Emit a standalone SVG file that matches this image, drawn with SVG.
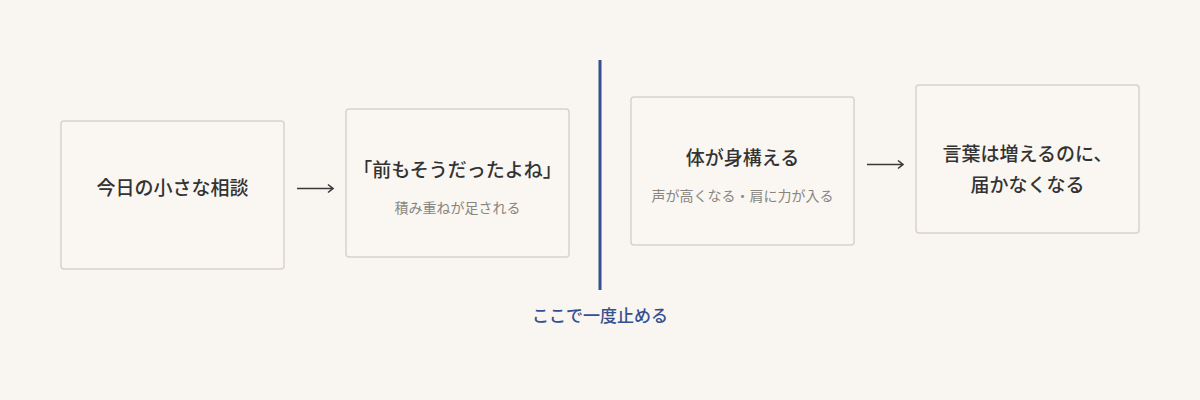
<svg xmlns="http://www.w3.org/2000/svg" width="1200" height="400" viewBox="0 0 1200 400">
<style>
.bg{fill:#f9f5f0}
.box{fill:#faf6f1;stroke:#d8d3cb;stroke-width:1.5}
.t{font-family:"Noto Sans CJK JP","Noto Sans",sans-serif;font-size:19px;font-weight:500;fill:#333333;text-anchor:middle}
.s{font-family:"Noto Sans CJK JP","Noto Sans",sans-serif;font-size:14px;fill:#888580;text-anchor:middle}
.lbl{font-family:"Noto Sans CJK JP","Noto Sans",sans-serif;font-size:17px;font-weight:500;fill:#34508f;text-anchor:middle}
.arr{fill:none;stroke:#3a3a3a;stroke-width:1.6}
</style>
<rect class="bg" x="0" y="0" width="1200" height="400"/>
<g id="n1"><rect class="box" x="61" y="121" width="223" height="148" rx="3"/><text class="t" x="172.5" y="195">今日の小さな相談</text></g>
<g id="n2"><rect class="box" x="346" y="109" width="223" height="148" rx="3"/><text class="t" x="457.5" y="177">「前もそうだったよね」</text><text class="s" x="457.5" y="213">積み重ねが足される</text></g>
<g id="n3"><rect class="box" x="631" y="97" width="223" height="148" rx="3"/><text class="t" x="742.5" y="165">体が身構える</text><text class="s" x="742.5" y="201">声が高くなる・肩に力が入る</text></g>
<g id="n4"><rect class="box" x="916" y="85" width="223" height="148" rx="3"/><text class="t" x="1027.5" y="161">言葉は増えるのに、</text><text class="t" x="1027.5" y="192">届かなくなる</text></g>
<g id="divider"><line x1="600" y1="60" x2="600" y2="290" stroke="#34508f" stroke-width="3"/><text class="lbl" x="600" y="322">ここで一度止める</text></g>
<g id="connectors">
<path class="arr" d="M297 188.5H333M328 184.5L333 188.5L328 192.5"/>
<path class="arr" d="M867 164.5H903M898 160.5L903 164.5L898 168.5"/>
</g>
</svg>
